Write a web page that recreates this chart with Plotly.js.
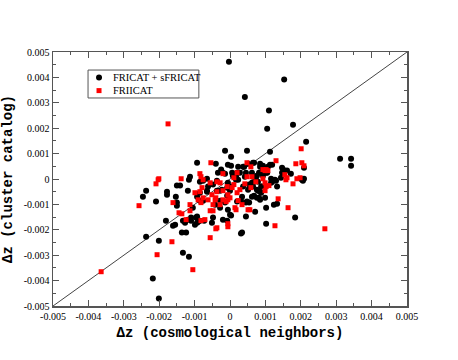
<!DOCTYPE html>
<html>
<head>
<meta charset="utf-8">
<script src="https://cdn.plot.ly/plotly-3.0.1.min.js"></script>
<style>html,body{margin:0;padding:0;background:#fff;}#chart{width:458px;height:360px;}</style>
</head>
<body>
<div id="chart"></div>
<script>
// FRICAT + sFRICAT (black circles)
const friX = [-0.00003,0.00153,0.00042,0.00110,0.00178,0.00105,0.00215,0.00048,0.00113,-0.00014,0.00003,0.00311,0.00342,0.00342,0.00209,-0.00093,-0.00040,-0.00034,-0.00020,-0.00014,-0.00113,-0.00065,0.00068,0.00051,0.00040,0.00085,0.00085,0.00107,0.00113,0.00003,0.00147,0.00161,0.00147,0.00172,0.00102,0.00082,0.00076,0.00093,0.00045,0.00028,0.00017,0.00008,0.00116,0.00144,0.00209,-0.00237,-0.00246,-0.00178,-0.00178,-0.00209,-0.00150,-0.00141,-0.00153,-0.00150,-0.00150,-0.00119,-0.00116,-0.00181,-0.00161,-0.00155,-0.00133,-0.00127,-0.00136,-0.00124,-0.00119,-0.00110,-0.00110,-0.00096,-0.00093,-0.00099,-0.00085,-0.00073,-0.00105,-0.00085,-0.00076,-0.00085,-0.00065,-0.00076,-0.00028,-0.00028,-0.00028,-0.00037,-0.00008,-0.00048,-0.00037,-0.00008,-0.00006,0.00000,-0.00008,-0.00020,-0.00133,-0.00116,-0.00201,-0.00237,-0.00218,-0.00201,0.00031,0.00102,0.00184,0.00102,0.00124,0.00133,0.00099,0.00071,0.00045,0.00003,0.00045,0.00054,0.00068,0.00076,0.00082,0.00031,0.00079,0.00088,0.00088,0.00054,0.00065,0.00206,0.00116,0.00130,0.00017,0.00003,0.00000,0.00037,0.00065,0.00119,-0.00006,0.00023,-0.00025,0.00006,0.00020,-0.00085,-0.00062,-0.00065,-0.00023,-0.00006,0.00023,0.00042,0.00037,0.00051,-0.00093,-0.00042,-0.00014,0.00020,0.00034,0.00048,-0.00093,-0.00090,-0.00048,-0.00051,0.00034,0.00062,0.00085,0.00093,0.00093,0.00105,0.00203,0.00150,0.00062,0.00065,0.00073,0.00079,0.00062,0.00065,0.00076,0.00085,0.00090,0.00119,0.00133,0.00127];
const friY = [0.00462,0.00392,0.00323,0.00270,0.00214,0.00198,0.00147,0.00111,0.00107,0.00111,0.00088,0.00080,0.00080,0.00052,0.00044,0.00064,0.00060,0.00025,0.00025,0.00021,0.00009,0.00001,0.00064,0.00060,0.00048,0.00060,0.00048,0.00048,0.00056,0.00052,0.00044,0.00033,0.00025,0.00021,0.00025,0.00025,0.00013,0.00013,0.00025,0.00025,0.00009,0.00013,0.00001,0.00005,0.00001,-0.00046,-0.00070,-0.00050,-0.00062,-0.00089,-0.00026,-0.00026,-0.00070,-0.00093,-0.00105,-0.00046,-0.00003,-0.00164,-0.00184,-0.00180,-0.00164,-0.00172,-0.00211,-0.00211,-0.00160,-0.00164,-0.00152,-0.00152,-0.00172,-0.00180,-0.00164,-0.00164,-0.00113,-0.00086,-0.00086,-0.00054,-0.00046,-0.00007,-0.00086,-0.00113,-0.00046,-0.00046,-0.00034,-0.00022,-0.00007,-0.00066,-0.00121,-0.00141,-0.00164,-0.00160,-0.00290,-0.00306,-0.00243,-0.00227,-0.00392,-0.00470,-0.00215,-0.00176,-0.00152,-0.00113,-0.00101,-0.00097,-0.00074,-0.00129,-0.00148,-0.00144,-0.00093,-0.00093,-0.00066,-0.00074,-0.00074,-0.00085,-0.00046,-0.00054,-0.00030,-0.00022,-0.00015,-0.00007,-0.00015,-0.00007,-0.00003,-0.00030,-0.00046,0.00048,0.00064,0.00056,0.00056,0.00048,0.00037,0.00025,0.00025,-0.00011,-0.00030,-0.00050,-0.00042,-0.00015,-0.00003,0.00009,-0.00030,-0.00042,-0.00070,-0.00101,-0.00093,-0.00089,-0.00070,-0.00089,-0.00148,-0.00168,-0.00152,-0.00172,-0.00211,-0.00070,-0.00082,0.00052,0.00033,0.00025,-0.00003,0.00037,0.00025,0.00009,0.00001,-0.00011,-0.00015,-0.00030,-0.00042,-0.00050,-0.00030,-0.00011,-0.00030,-0.00003];

// FRIICAT (red squares)
const friiX = [-0.00175,-0.00054,-0.00020,-0.00085,-0.00082,-0.00201,-0.00138,0.00201,0.00130,0.00186,0.00209,0.00059,0.00155,0.00161,0.00099,0.00107,0.00048,0.00062,0.00020,0.00011,0.00189,-0.00203,-0.00209,-0.00257,-0.00161,-0.00136,-0.00124,-0.00082,-0.00113,-0.00082,-0.00099,-0.00079,-0.00076,-0.00062,-0.00048,-0.00051,-0.00040,-0.00056,-0.00048,-0.00028,-0.00020,-0.00011,-0.00020,-0.00028,-0.00006,-0.00040,-0.00071,-0.00105,-0.00164,-0.00206,-0.00364,0.00127,0.00268,0.00164,0.00136,0.00056,0.00017,-0.00006,0.00034,0.00023,0.00099,0.00102,0.00110,0.00059,0.00178,0.00073,0.00042,0.00000,0.00093,0.00048,-0.00037,-0.00056,-0.00085,-0.00037,-0.00008,0.00006,0.00011,0.00028,0.00020,-0.00090,-0.00076,-0.00042,-0.00006,0.00014,0.00051,-0.00006,-0.00037,-0.00056,0.00102,0.00203,0.00158,0.00198,0.00093,0.00099,-0.00144,-0.00113];
const friiY = [0.00217,0.00064,0.00021,0.00021,0.00009,0.00001,0.00001,0.00119,0.00072,0.00060,0.00052,0.00048,0.00017,0.00005,0.00033,0.00033,0.00009,0.00009,0.00025,0.00005,0.00001,-0.00003,-0.00019,-0.00105,-0.00093,-0.00137,-0.00160,-0.00164,-0.00125,-0.00093,-0.00054,-0.00034,-0.00003,-0.00082,-0.00101,-0.00062,-0.00074,-0.00125,-0.00125,-0.00101,-0.00082,-0.00089,-0.00046,-0.00015,-0.00062,-0.00196,-0.00160,-0.00357,-0.00247,-0.00298,-0.00365,-0.00184,-0.00196,-0.00113,-0.00078,-0.00121,-0.00121,-0.00176,-0.00101,-0.00085,-0.00046,-0.00030,-0.00026,-0.00034,-0.00019,-0.00011,-0.00019,-0.00074,0.00037,0.00064,-0.00011,-0.00015,-0.00050,-0.00050,-0.00030,-0.00034,-0.00022,-0.00042,-0.00054,-0.00082,-0.00074,-0.00082,-0.00082,-0.00113,-0.00121,-0.00188,-0.00192,-0.00231,0.00037,0.00064,-0.00003,0.00005,0.00001,-0.00015,-0.00133,-0.00101];

const seriesNames = ['FRICAT + sFRICAT', 'FRIICAT'];
const seriesColors = ['#000000', '#ff0000'];
const diagX = [-0.005, 0.005];
const diagY = [-0.005, 0.005];
const tickVals = [-0.005,-0.004,-0.003,-0.002,-0.001,0,0.001,0.002,0.003,0.004,0.005];
const tickText = ['-0.005','-0.004','-0.003','-0.002','-0.001','0','0.001','0.002','0.003','0.004','0.005'];

const serif = 'Liberation Serif, Times New Roman, serif';
const mono = 'Liberation Mono, Courier New, monospace';

const traces = [
  {x: diagX, y: diagY, mode: 'lines', line: {color: '#444', width: 1}, showlegend: false, hoverinfo: 'skip'},
  {x: friX, y: friY, mode: 'markers', name: seriesNames[0], marker: {symbol: 'circle', size: 6, color: seriesColors[0]}},
  {x: friiX, y: friiY, mode: 'markers', name: seriesNames[1], marker: {symbol: 'square', size: 5, color: seriesColors[1]}}
];

function axis(titleText, standoff) {
  return {
    range: [-0.005, 0.005],
    tickvals: tickVals, ticktext: tickText,
    ticks: 'inside', ticklen: 6, tickwidth: 1, tickcolor: '#555',
    minor: {dtick: 0.0005, ticks: 'inside', ticklen: 3, tickcolor: '#555', showgrid: false},
    showline: true, linecolor: '#555', linewidth: 1.5, mirror: 'allticks',
    showgrid: false, zeroline: false,
    tickfont: {family: serif, size: 10, color: '#000'},
    title: {text: titleText, font: {family: mono, size: 14, color: '#000', weight: 'bold'}, standoff: standoff}
  };
}

// compact legend box (paper coordinates)
const legBox = {x0: 0.099, x1: 0.412, y0: 0.819, y1: 0.929};
const legRowsY = [0.900, 0.848];
const legSymX = 0.130, legTextX = 0.166;

const shapes = [
  {type: 'rect', xref: 'paper', yref: 'paper', x0: legBox.x0, x1: legBox.x1, y0: legBox.y0, y1: legBox.y1,
   line: {color: '#555', width: 1}, fillcolor: '#fff', layer: 'above'},
  {type: 'circle', xref: 'paper', yref: 'paper', xsizemode: 'pixel', ysizemode: 'pixel',
   xanchor: legSymX, yanchor: legRowsY[0], x0: -3, x1: 3, y0: -3, y1: 3,
   line: {width: 0}, fillcolor: seriesColors[0], layer: 'above'},
  {type: 'rect', xref: 'paper', yref: 'paper', xsizemode: 'pixel', ysizemode: 'pixel',
   xanchor: legSymX, yanchor: legRowsY[1], x0: -2.5, x1: 2.5, y0: -2.5, y1: 2.5,
   line: {width: 0}, fillcolor: seriesColors[1], layer: 'above'}
];
const annotations = seriesNames.map((n, i) => ({
  xref: 'paper', yref: 'paper', x: legTextX, y: legRowsY[i], xanchor: 'left', yanchor: 'middle',
  text: n, showarrow: false, font: {family: serif, size: 10.5, color: '#000'}, borderpad: 0
}));

const layout = {
  width: 458, height: 360,
  margin: {l: 53, r: 51, t: 52, b: 54},
  paper_bgcolor: '#fff', plot_bgcolor: '#fff',
  showlegend: false,
  xaxis: axis('<b>Δz (cosmological neighbors)</b>', 6),
  yaxis: axis('<b>Δz (cluster catalog)</b>', 8),
  shapes: shapes,
  annotations: annotations
};

Plotly.newPlot('chart', traces, layout, {displayModeBar: false, staticPlot: true});
</script>
</body>
</html>
